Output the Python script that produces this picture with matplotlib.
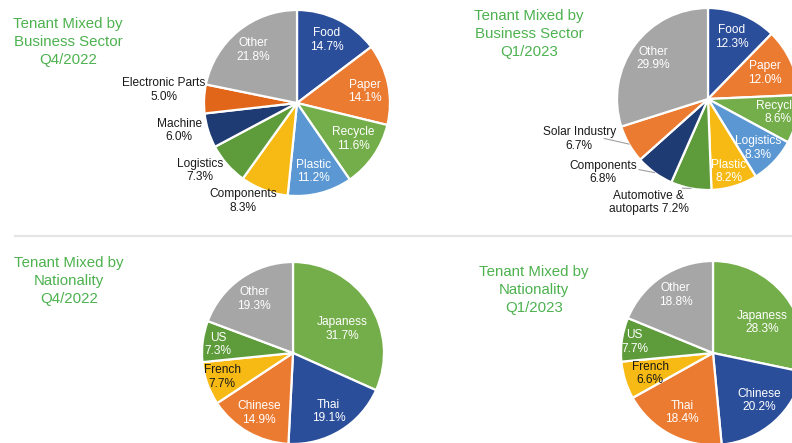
import numpy as np
import matplotlib.pyplot as plt

plt.rcParams['font.family'] = ['Liberation Sans', 'DejaVu Sans']

W, H = 792, 443

# --- data -------------------------------------------------------------
sector_q4_names = ["Food", "Paper", "Recycle", "Plastic", "Components",
                   "Logistics", "Machine", "Electronic Parts", "Other"]
sector_q4_vals = [14.7, 14.1, 11.6, 11.2, 8.3, 7.3, 6.0, 5.0, 21.8]

sector_q1_names = ["Food", "Paper", "Recycle", "Logistics", "Plastic",
                   "Automotive &\nautoparts", "Components", "Solar Industry", "Other"]
sector_q1_vals = [12.3, 12.0, 8.6, 8.3, 8.2, 7.2, 6.8, 6.7, 29.9]

nation_q4_names = ["Japaness", "Thai", "Chinese", "French", "US", "Other"]
nation_q4_vals = [31.7, 19.1, 14.9, 7.7, 7.3, 19.3]

nation_q1_names = ["Japaness", "Chinese", "Thai", "French", "US", "Other"]
nation_q1_vals = [28.3, 20.2, 18.4, 6.6, 7.7, 18.8]

titles = ["Tenant Mixed by\nBusiness Sector\nQ4/2022",
          "Tenant Mixed by\nBusiness Sector\nQ1/2023",
          "Tenant Mixed by\nNationality\nQ4/2022",
          "Tenant Mixed by\nNationality\nQ1/2023"]

# --- styles -----------------------------------------------------------
navy = "#2B4E9B"
dnavy = "#1F3B73"
orange = "#EC7B32"
dorange = "#E2661A"
lgreen = "#74AE4A"
green = "#5E9C3B"
lblue = "#5B98D3"
gold = "#F7BA14"
gray = "#A6A6A6"
title_col = "#4DB24F"

fig = plt.figure(figsize=(W / 100, H / 100), dpi=100)
ax = fig.add_axes([0, 0, 1, 1])


def draw(names, vals, colors, center, r, dists, nudges, tcolors, leaders=None):
    cx, cy = center[0], H - center[1]
    wedges, _ = ax.pie(vals, colors=colors, center=(cx, cy), radius=r,
                       startangle=90, counterclock=False,
                       wedgeprops=dict(edgecolor="white", linewidth=1.6))
    for i, w in enumerate(wedges):
        mid = np.deg2rad((w.theta1 + w.theta2) / 2 + nudges[i])
        tx = cx + dists[i] * r * np.cos(mid)
        ty = cy + dists[i] * r * np.sin(mid)
        txt = names[i]
        if "autoparts" in txt:
            txt = txt + " %.1f%%" % vals[i]
        else:
            txt = txt + "\n%.1f%%" % vals[i]
        ax.text(tx, ty, txt, ha="center", va="center", fontsize=8.6,
                color=tcolors[i], linespacing=1.15)
        if leaders and i in leaders:
            m = np.deg2rad((w.theta1 + w.theta2) / 2)
            ex, ey = cx + r * np.cos(m), cy + r * np.sin(m)
            f = leaders[i]
            ax.plot([ex, ex + f * (tx - ex)], [ey, ey + f * (ty - ey) + 3],
                    color="#A0A0A0", lw=0.8)


W_, B_ = "white", "#1A1A1A"

draw(sector_q4_names, sector_q4_vals,
     [navy, orange, lgreen, lblue, gold, green, dnavy, dorange, gray],
     (297, 103), 93,
     [0.75, 0.74, 0.72, 0.76, 1.2, 1.27, 1.30, 1.44, 0.74],
     [1, -2, 2, -1, -8, -6.5, -4, -3, 0.5],
     [W_, W_, W_, W_, B_, B_, B_, B_, W_])

draw(sector_q1_names, sector_q1_vals,
     [navy, orange, lgreen, lblue, gold, green, dnavy, orange, gray],
     (708, 99), 91,
     [0.73, 0.69, 0.78, 0.77, 0.83, 1.31, 1.41, 1.48, 0.75],
     [1, 0.5, 2, -1, -1, -19, -19, -12.5, 0],
     [W_, W_, W_, W_, W_, B_, B_, B_, W_],
     leaders={5: 0.2, 6: 0.3, 7: 0.5})

draw(nation_q4_names, nation_q4_vals,
     [lgreen, navy, orange, gold, green, gray],
     (293, 353), 91,
     [0.60, 0.75, 0.76, 0.82, 0.83, 0.73],
     [-7, 0, 0, -1, 1, 1],
     [W_, W_, W_, B_, W_, W_])

draw(nation_q1_names, nation_q1_vals,
     [lgreen, navy, orange, gold, green, gray],
     (713, 353), 92,
     [0.63, 0.72, 0.73, 0.72, 0.86, 0.75],
     [-7, 2.5, 0, 1, 0.5, -1],
     [W_, W_, W_, B_, W_, W_])

# titles
for (x, y), t in zip([(68, 42), (529, 34), (69, 281), (534, 290)], titles):
    ax.text(x, H - y, t, ha="center", va="center", fontsize=10.8,
            color=title_col, linespacing=1.4)

# separator
ax.plot([15, W], [H - 236, H - 236], color="#E4E4E4", lw=1.5)

ax.set_xlim(0, W)
ax.set_ylim(0, H)
ax.set_aspect("equal")
ax.axis("off")

fig.savefig("out.png", dpi=100)
